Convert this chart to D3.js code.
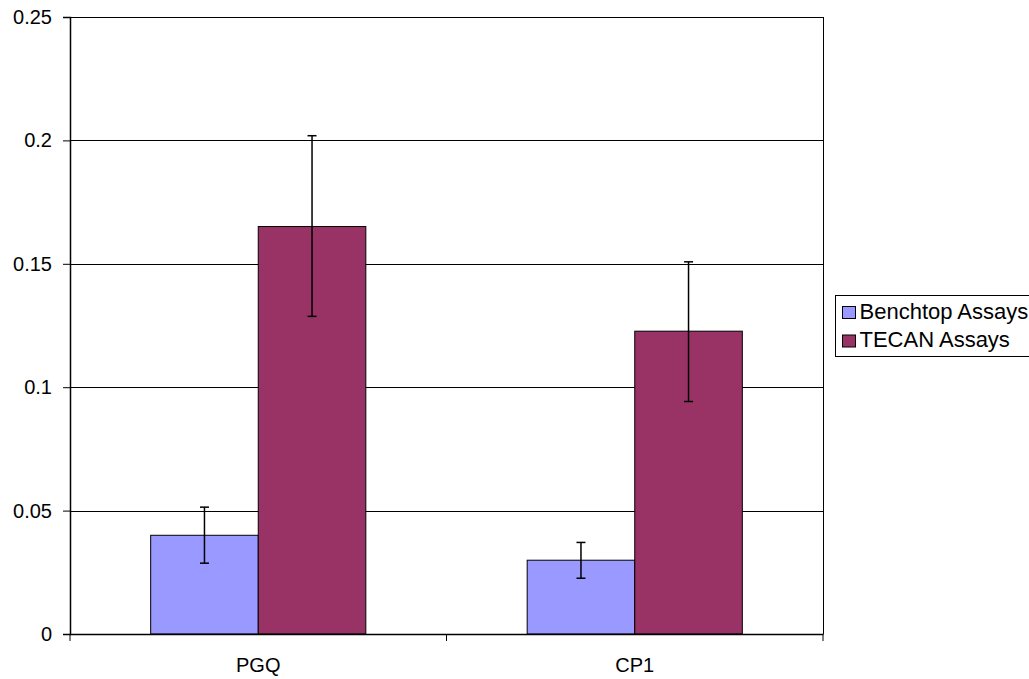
<!DOCTYPE html>
<html>
<head>
<meta charset="utf-8">
<script src="https://cdn.jsdelivr.net/npm/d3@7"></script>
<style>
body { margin: 0; background: #fff; }
svg text { font-family: "Liberation Sans", Arial, sans-serif; }
</style>
</head>
<body>
<svg id="chart" width="1029" height="679"></svg>
<script>
var categories = ["PGQ", "CP1"];
var seriesNames = ["Benchtop Assays", "TECAN Assays"];
var benchtopValues = [0.040, 0.0299];
var benchtopLow = [0.0287, 0.0226];
var benchtopHigh = [0.0514, 0.0371];
var tecanValues = [0.1651, 0.1227];
var tecanLow = [0.1287, 0.0942];
var tecanHigh = [0.2019, 0.1508];
var yTicks = [0, 0.05, 0.1, 0.15, 0.2, 0.25];
var colors = ["#9999FF", "#993366"];

var svg = d3.select("#chart");
var margin = {top: 17, left: 70, right: 206, bottom: 45};
var width = 1029 - margin.left - margin.right;
var height = 679 - margin.top - margin.bottom;

var g = svg.append("g")
    .attr("transform", "translate(" + margin.left + "," + margin.top + ")");

var x = d3.scaleBand().domain(categories).range([0, width]);
var x1 = d3.scaleBand().domain(seriesNames).range([0, x.bandwidth()])
    .paddingOuter(0.75).paddingInner(0);
var y = d3.scaleLinear().domain([0, 0.25]).range([height, 0]);

// gridlines
g.selectAll(".grid")
    .data(yTicks)
    .enter()
    .append("line")
    .attr("x1", 0)
    .attr("x2", width)
    .attr("y1", d => Math.round(y(d)) + 0.5)
    .attr("y2", d => Math.round(y(d)) + 0.5)
    .attr("stroke", "#000")
    .attr("stroke-width", 1);

// right border
g.append("line")
    .attr("x1", width + 0.5).attr("x2", width + 0.5)
    .attr("y1", 0).attr("y2", height)
    .attr("stroke", "#000");

var series = [
    {name: seriesNames[0], values: benchtopValues, low: benchtopLow, high: benchtopHigh, color: colors[0]},
    {name: seriesNames[1], values: tecanValues, low: tecanLow, high: tecanHigh, color: colors[1]}
];

series.forEach(function(s) {
    var data = categories.map(function(c, i) {
        return {cat: c, value: s.values[i], low: s.low[i], high: s.high[i]};
    });
    g.selectAll(".bar-" + s.name.replace(/\s/g, ""))
        .data(data)
        .enter()
        .append("rect")
        .attr("x", d => x(d.cat) + x1(s.name))
        .attr("y", d => y(d.value))
        .attr("width", x1.bandwidth())
        .attr("height", d => height - y(d.value))
        .attr("fill", s.color)
        .attr("stroke", "#000")
        .attr("stroke-width", 1);

    var eb = g.selectAll(".err-" + s.name.replace(/\s/g, ""))
        .data(data)
        .enter()
        .append("g")
        .attr("transform", d => "translate(" + (x(d.cat) + x1(s.name) + x1.bandwidth() / 2) + ",0)");
    eb.append("line")
        .attr("x1", 0).attr("x2", 0)
        .attr("y1", d => y(d.low)).attr("y2", d => y(d.high))
        .attr("stroke", "#000").attr("stroke-width", 1.5);
    eb.append("line")
        .attr("x1", -4.5).attr("x2", 4.5)
        .attr("y1", d => y(d.low)).attr("y2", d => y(d.low))
        .attr("stroke", "#000").attr("stroke-width", 1.5);
    eb.append("line")
        .attr("x1", -4.5).attr("x2", 4.5)
        .attr("y1", d => y(d.high)).attr("y2", d => y(d.high))
        .attr("stroke", "#000").attr("stroke-width", 1.5);
});

// y axis
var yAxis = d3.axisLeft(y).tickValues(yTicks).tickSize(7).tickPadding(11)
    .tickFormat(d => d3.format("")(+d.toFixed(2)));
var gy = g.append("g").call(yAxis);
gy.select(".domain").attr("stroke-width", 1.5);
gy.selectAll("text").attr("font-size", "20px").attr("fill", "#000")
    .attr("font-family", "Liberation Sans, Arial, sans-serif");

// x axis with ticks at band boundaries
var xAxis = d3.axisBottom(x).tickSize(0).tickPadding(24);
var gx = g.append("g").attr("transform", "translate(0," + height + ")").call(xAxis);
gx.select(".domain").attr("stroke-width", 1.5);
gx.selectAll("text").attr("font-size", "20px").attr("fill", "#000")
    .attr("font-family", "Liberation Sans, Arial, sans-serif");
var bounds = [0].concat(categories.map(c => x(c) + x.bandwidth()));
gx.selectAll(".bound")
    .data(bounds)
    .enter()
    .append("line")
    .attr("x1", d => d).attr("x2", d => d)
    .attr("y1", 0).attr("y2", 7)
    .attr("stroke", "#000");

// legend
var legend = svg.append("g").attr("transform", "translate(835.5,295.5)");
legend.append("rect")
    .attr("width", 200).attr("height", 61)
    .attr("fill", "#fff").attr("stroke", "#000");
var items = legend.selectAll(".item")
    .data(series)
    .enter()
    .append("g")
    .attr("transform", (d, i) => "translate(7," + (11 + i * 28.5) + ")");
items.append("rect")
    .attr("width", 13).attr("height", 12)
    .attr("fill", d => d.color).attr("stroke", "#000");
items.append("text")
    .attr("x", 17).attr("y", 12)
    .attr("font-size", "22px")
    .text(d => d.name);
</script>
</body>
</html>
